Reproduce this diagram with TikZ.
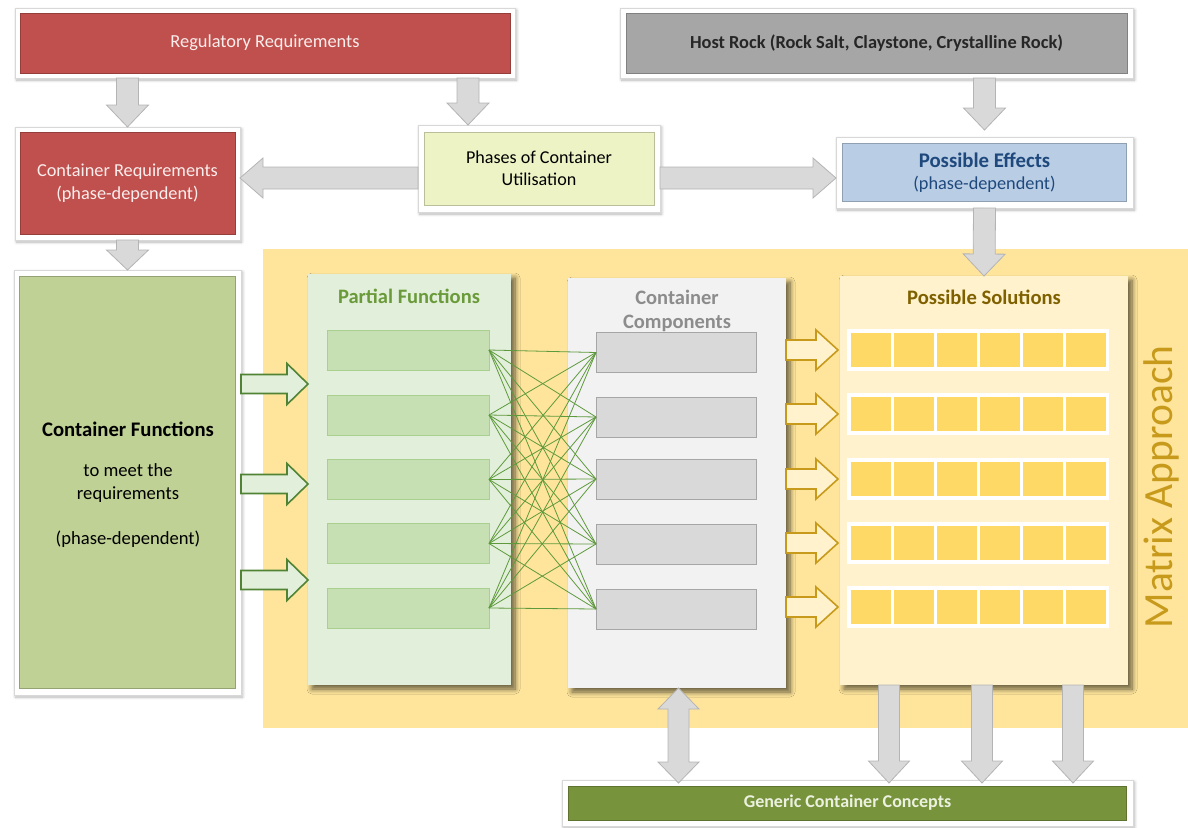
\documentclass[tikz,border=0pt]{standalone}
\usepackage{fontspec}
\setmainfont{Carlito}
\usetikzlibrary{calc,shadows,shadows.blur}

\definecolor{regred}{HTML}{C0504D}
\definecolor{regtext}{HTML}{FAEEED}
\definecolor{rockgray}{HTML}{A6A6A6}
\definecolor{phasefill}{HTML}{EEF3C6}
\definecolor{effblue}{HTML}{B9CDE5}
\definecolor{efftext}{HTML}{1F497D}
\definecolor{funcgreen}{HTML}{BFD195}
\definecolor{bandyellow}{HTML}{FEE59B}
\definecolor{pfpanel}{HTML}{E2EFDA}
\definecolor{pfbox}{HTML}{C6E0B4}
\definecolor{pfline}{HTML}{A9D08E}
\definecolor{pftitle}{HTML}{6A9A3A}
\definecolor{ccpanel}{HTML}{F2F2F2}
\definecolor{ccbox}{HTML}{D9D9D9}
\definecolor{ccline}{HTML}{A6A6A6}
\definecolor{cctitle}{HTML}{8C8C8C}
\definecolor{solpanel}{HTML}{FFF2CC}
\definecolor{solcell}{HTML}{FFD966}
\definecolor{soltitle}{HTML}{7F6000}
\definecolor{gold}{HTML}{C79A1B}
\definecolor{linkgreen}{HTML}{5E9A3C}
\definecolor{arrowfill}{HTML}{D9D9D9}
\definecolor{arrowline}{HTML}{B4B4B4}
\definecolor{conceptgreen}{HTML}{77933C}
\definecolor{concepttext}{HTML}{EBF1DE}
\definecolor{framegray}{HTML}{D8D8D8}

% block arrow: style, from, to, half shaft width, half head width, head length
\newcommand\blockarrow[6]{%
  \path ($(#3)!#6!(#2)$) coordinate (ba-base);
  \draw[#1] ($(#2)!#4!90:(#3)$) -- ($(ba-base)!#4!-90:(#2)$) -- ($(ba-base)!#5!-90:(#2)$)
    -- (#3) -- ($(ba-base)!#5!90:(#2)$) -- ($(ba-base)!#4!90:(#2)$) -- ($(#2)!#4!-90:(#3)$) -- cycle;}
% double-headed block arrow
\newcommand\dblockarrow[6]{%
  \path ($(#2)!#6!(#3)$) coordinate (ba-one) ($(#3)!#6!(#2)$) coordinate (ba-two);
  \draw[#1] (#2) -- ($(ba-one)!#5!90:(#3)$) -- ($(ba-one)!#4!90:(#3)$) -- ($(ba-two)!#4!-90:(#2)$)
    -- ($(ba-two)!#5!-90:(#2)$) -- (#3) -- ($(ba-two)!#5!90:(#2)$) -- ($(ba-two)!#4!90:(#2)$)
    -- ($(ba-one)!#4!-90:(#3)$) -- ($(ba-one)!#5!-90:(#3)$) -- cycle;}

\begin{document}
\begin{tikzpicture}[x=1pt,y=-1pt,
  every node/.style={inner sep=0pt, outer sep=0pt},
  frame/.style={rectangle, fill=white, draw=framegray, line width=0.6pt,
    blur shadow={shadow xshift=1.5pt, shadow yshift=-2pt, shadow opacity=30,
      shadow blur radius=3pt, shadow blur steps=6}},
  inbox/.style={rectangle, fill=#1, draw=#1!78!black, line width=1pt, align=center},
  panel/.style={rectangle, fill=#1,
    blur shadow={shadow xshift=4pt, shadow yshift=-4pt, shadow opacity=60,
      shadow blur radius=5pt, shadow blur steps=8}},
  pfitem/.style={rectangle, fill=pfbox, draw=pfline, line width=1pt,
    minimum width=162pt, minimum height=40pt},
  ccitem/.style={rectangle, fill=ccbox, draw=ccline, line width=1pt,
    minimum width=160pt, minimum height=40pt},
  solrow/.style={rectangle, fill=white, minimum width=262pt, minimum height=42pt},
  solitem/.style={rectangle, fill=solcell, minimum width=40pt, minimum height=34pt},
  link/.style={draw=linkgreen, line width=0.8pt},
  garrow/.style={fill=arrowfill, draw=arrowline, line width=0.8pt},
  greenarrow/.style={fill=pfpanel, draw=linkgreen!85!black, line width=1.6pt},
  goldarrow/.style={fill=solpanel, draw=gold, line width=1.6pt},
  lbl/.style={font=\fontsize{18.4}{22}\selectfont, align=center}
]
\useasboundingbox (0,0) rectangle (1188,827);

% background band of the matrix approach
\fill[bandyellow] (263,249) rectangle (1188,728);
\node[rotate=90, text=gold, font=\fontsize{41.5}{46}\selectfont] (mat) at (1161,487) {Matrix Approach};

% top row
\node[frame, minimum width=500pt, minimum height=70pt] (reg) at (265,43) {};
\node[inbox=regred, minimum width=490pt, minimum height=60pt, text=regtext, lbl] (regin) at (reg.center) {Regulatory Requirements};
\node[frame, minimum width=513pt, minimum height=70pt] (host) at (876.5,43) {};
\node[inbox=rockgray, minimum width=501pt, minimum height=60pt, text=black!85, lbl, font=\fontsize{18.4}{22}\selectfont\bfseries] (hostin) at (host.center) {Host Rock (Rock Salt, Claystone, Crystalline Rock)};

% second row
\node[frame, minimum width=225pt, minimum height=113pt] (crq) at (127.5,183.5) {};
\node[inbox=regred, minimum width=215pt, minimum height=102pt, text=regtext, lbl, font=\fontsize{18.3}{23}\selectfont] (crqin) at (crq.center) {Container Requirements\\(phase-dependent)};
\node[frame, minimum width=242pt, minimum height=87pt] (phases) at (539,168.5) {};
\node[inbox=phasefill, minimum width=230pt, minimum height=73pt, text=black, lbl, font=\fontsize{18.1}{22}\selectfont] (phasesin) at (phases.center) {Phases of Container\\Utilisation};
\node[frame, minimum width=297pt, minimum height=71pt] (eff) at (984.5,172.5) {};
\node[inbox=effblue, minimum width=284pt, minimum height=58pt, text=efftext, lbl, font=\fontsize{18.3}{22}\selectfont] (effin) at (eff.center) {\textbf{\fontsize{20.8}{22}\selectfont Possible Effects}\\(phase-dependent)};

% container functions
\node[frame, minimum width=227pt, minimum height=425pt] (cfn) at (127.5,482.5) {};
\node[inbox=funcgreen, minimum width=216pt, minimum height=412pt] (cfnin) at (cfn.center) {};
\node[font=\fontsize{20.7}{24}\selectfont\bfseries] (cfnt) at (128,429) {Container Functions};
\node[lbl, font=\fontsize{18.6}{23}\selectfont] (cfnb) at (128,483.5) {to meet the\\requirements};
\node[lbl, font=\fontsize{18.6}{22}\selectfont] (cfnp) at (128,539) {(phase-dependent)};

% partial functions
\node[panel=pfpanel, minimum width=203pt, minimum height=411pt] (pf) at (409.5,479.5) {};
\node[text=pftitle, font=\fontsize{20.5}{24}\selectfont\bfseries] (pft) at (409,296) {Partial Functions};
\foreach \y [count=\i] in {350,415,479.5,543.5,608}
  \node[pfitem] (pf\i) at (408,\y) {};

% container components
\node[panel=ccpanel, minimum width=218pt, minimum height=410pt] (cc) at (677,483) {};
\node[text=cctitle, align=center, font=\fontsize{20.5}{24}\selectfont\bfseries] (cct) at (677,311) {Container\\Components};
\foreach \y [count=\i] in {352.5,417,479,544,609}
  \node[ccitem] (cc\i) at (676,\y) {};

% every partial function may be served by every component
\foreach \i in {1,...,5}
  \foreach \j in {1,...,5}
    \draw[link] (pf\i.east) -- (cc\j.west);

% possible solutions
\node[panel=solpanel, minimum width=288pt, minimum height=409pt] (sol) at (984,480.5) {};
\node[text=soltitle, font=\fontsize{20.6}{24}\selectfont\bfseries] (solt) at (984,297) {Possible Solutions};
\foreach \y [count=\i] in {350,414,479,543,607} {
  \node[solrow] (row\i) at (978,\y) {};
  \foreach \c in {1,...,6}
    \node[solitem] (cell\i-\c) at ({871+43*(\c-1)},\y) {};
}

% generic concepts
\node[frame, minimum width=571pt, minimum height=46pt] (gcc) at (847.5,803) {};
\node[inbox=conceptgreen, minimum width=558pt, minimum height=34pt, text=concepttext, font=\fontsize{18}{20}\selectfont\bfseries] (gccin) at (gcc.center) {Generic Container Concepts};

% grey connectors between the blocks
\coordinate (a1s) at (reg.south -| crq.center);
\blockarrow{garrow}{a1s}{crq.north}{11pt}{21pt}{22pt}
\coordinate (a2s) at ([xshift=203pt]reg.south);
\coordinate (a2e) at (a2s |- phases.north);
\blockarrow{garrow}{a2s}{a2e}{11pt}{21pt}{22pt}
\coordinate (a3s) at (host.south -| eff.center);
\coordinate (a3e) at ([yshift=7pt]eff.north);
\blockarrow{garrow}{a3s}{a3e}{11pt}{21pt}{22pt}
\coordinate (a4s) at ([yshift=-9.5pt]phases.west);
\coordinate (a4e) at (a4s -| crq.east);
\blockarrow{garrow}{a4s}{a4e}{11pt}{20pt}{23pt}
\coordinate (a5s) at (a4s -| phases.east);
\coordinate (a5e) at (a4s -| eff.west);
\blockarrow{garrow}{a5s}{a5e}{11pt}{20pt}{23pt}
\blockarrow{garrow}{crq.south}{cfn.north}{11pt}{21pt}{20pt}
\blockarrow{garrow}{eff.south}{sol.north}{11pt}{21pt}{22pt}

% functions feed the partial functions
\foreach \y [count=\k] in {384,484,580} {
  \coordinate (g\k s) at (cfn.east |- 0,\y);
  \coordinate (g\k e) at (pf.west |- 0,\y);
  \blockarrow{greenarrow}{g\k s}{g\k e}{9.5pt}{20.5pt}{21pt}
}

% components lead to solutions
\foreach \k in {1,...,5} {
  \coordinate (o\k s) at (cc.east |- row\k);
  \coordinate (o\k e) at ([xshift=-2pt]sol.west |- row\k);
  \blockarrow{goldarrow}{o\k s}{o\k e}{10pt}{20pt}{22pt}
}

% links to the generic concepts
\coordinate (b0s) at ([xshift=1.5pt]cc.south);
\coordinate (b0e) at ([yshift=-3pt]b0s |- gcc.north);
\dblockarrow{garrow}{b0s}{b0e}{10.5pt}{20.5pt}{21pt}
\foreach \dx [count=\k] in {-95,-2,89} {
  \coordinate (b\k s) at ([xshift=\dx pt]sol.south);
  \coordinate (b\k e) at ([yshift=-3pt]b\k s |- gcc.north);
  \blockarrow{garrow}{b\k s}{b\k e}{10.5pt}{20.5pt}{22pt}
}
\end{tikzpicture}
\end{document}
